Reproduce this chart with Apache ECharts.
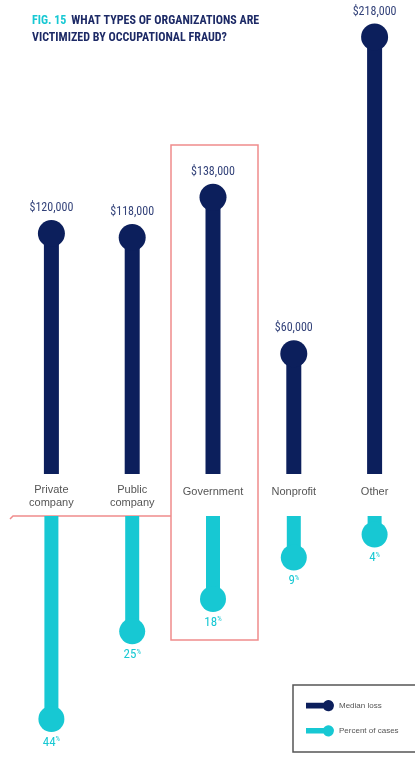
<!DOCTYPE html>
<html>
<head>
<meta charset="utf-8">
<script src="https://cdn.jsdelivr.net/npm/echarts@6/dist/echarts.min.js"></script>
<style>
html,body{margin:0;padding:0;background:#fff;}
#chart{width:415px;height:757px;}
</style>
</head>
<body>
<div id="chart"></div>
<script>
const categories = ['Private\ncompany', 'Public\ncompany', 'Government', 'Nonprofit', 'Other'];
const medianLoss = [120000, 118000, 138000, 60000, 218000];
const percentCases = [44, 25, 18, 9, 4];

const NAVY = '#0c1f5c';
const CYAN = '#17c8d3';
const NARROW = '"Roboto Condensed","DejaVu Sans Condensed",sans-serif';
const SANS = '"Liberation Sans",Arial,sans-serif';

const iconPath = 'path://M0,5 L18.8,5 A6,6 0 1 1 18.8,11 L0,11 Z';

const chart = echarts.init(document.getElementById('chart'));
chart.setOption({
  animation: false,
  title: {
    left: 27, top: 7,
    text: '{a|FIG. 15} {b|WHAT TYPES OF ORGANIZATIONS ARE}\n{b|VICTIMIZED BY OCCUPATIONAL FRAUD?}',
    textStyle: {
      rich: {
        a: { color: CYAN, fontFamily: NARROW, fontWeight: 'bold', fontSize: 12, lineHeight: 16 },
        b: { color: '#1d2a66', fontFamily: NARROW, fontWeight: 'bold', fontSize: 12, lineHeight: 16 }
      }
    }
  },
  grid: [
    { left: 11, width: 405, top: 37, height: 437 },
    { left: 11, width: 405, top: 516, height: 203 }
  ],
  xAxis: [
    {
      gridIndex: 0, type: 'category', data: categories,
      axisLine: { show: false }, axisTick: { show: false }, splitLine: { show: false },
      axisLabel: {
        interval: 0, margin: 9, color: '#555', fontSize: 11, lineHeight: 13,
        fontFamily: SANS,
        formatter: v => v.indexOf('\n') >= 0 ? v : '{s|' + v + '}',
        rich: { s: { color: '#555', fontSize: 11, lineHeight: 13, padding: [4, 0, 0, 0], fontFamily: SANS } }
      }
    },
    { gridIndex: 1, type: 'category', data: categories, show: false }
  ],
  yAxis: [
    { gridIndex: 0, type: 'value', min: 0, max: 218000, show: false, splitLine: { show: false } },
    { gridIndex: 1, type: 'value', min: 0, max: 44, inverse: true, show: false, splitLine: { show: false } }
  ],
  legend: {
    orient: 'vertical', left: 293, top: 685,
    borderWidth: 0,
    padding: [15, 10, 17, 13], itemGap: 14, itemWidth: 28, itemHeight: 12,
    textStyle: { fontSize: 8, color: '#555', fontFamily: SANS },
    selectedMode: false,
    data: [
      { name: 'Median loss', icon: iconPath, itemStyle: { color: NAVY } },
      { name: 'Percent of cases', icon: iconPath, itemStyle: { color: CYAN } }
    ]
  },
  series: [
    {
      name: 'Median loss', type: 'bar', xAxisIndex: 0, yAxisIndex: 0,
      data: medianLoss, barWidth: 15, itemStyle: { color: NAVY }, silent: true
    },
    {
      name: 'Median loss', type: 'scatter', xAxisIndex: 0, yAxisIndex: 0,
      data: medianLoss, symbolSize: 27, itemStyle: { color: NAVY, opacity: 1 }, silent: true,
      label: {
        show: true, position: 'top', distance: 6,
        color: '#34437a', fontFamily: NARROW, fontSize: 12,
        formatter: p => '$' + p.value.toLocaleString('en-US')
      }
    },
    {
      name: 'Percent of cases', type: 'bar', xAxisIndex: 1, yAxisIndex: 1,
      data: percentCases, barWidth: 14, itemStyle: { color: CYAN }, silent: true
    },
    {
      name: 'Percent of cases', type: 'scatter', xAxisIndex: 1, yAxisIndex: 1,
      data: percentCases, symbolSize: 26, itemStyle: { color: CYAN, opacity: 1 }, silent: true,
      label: {
        show: true, position: 'bottom', distance: 4,
        formatter: p => '{n|' + p.value + '}{p|%}',
        rich: {
          n: { color: CYAN, fontFamily: NARROW, fontSize: 13 },
          p: { color: CYAN, fontFamily: NARROW, fontSize: 7, verticalAlign: 'top', padding: [0, 0, 3, 0] }
        }
      }
    }
  ],
  graphic: [
    {
      type: 'rect', silent: true,
      shape: { x: 171, y: 145, width: 87, height: 495 },
      style: { fill: 'none', stroke: '#f08c8c', lineWidth: 1.5 }
    },
    {
      type: 'polyline', silent: true,
      shape: { points: [[10, 519], [13, 516], [171, 516]] },
      style: { fill: 'none', stroke: '#f08c8c', lineWidth: 1.5 }
    },
    {
      type: 'rect', silent: true, z: -1,
      shape: { x: 293, y: 685, width: 140, height: 67 },
      style: { fill: 'none', stroke: '#555', lineWidth: 1.5 }
    }
  ]
});
</script>
</body>
</html>
